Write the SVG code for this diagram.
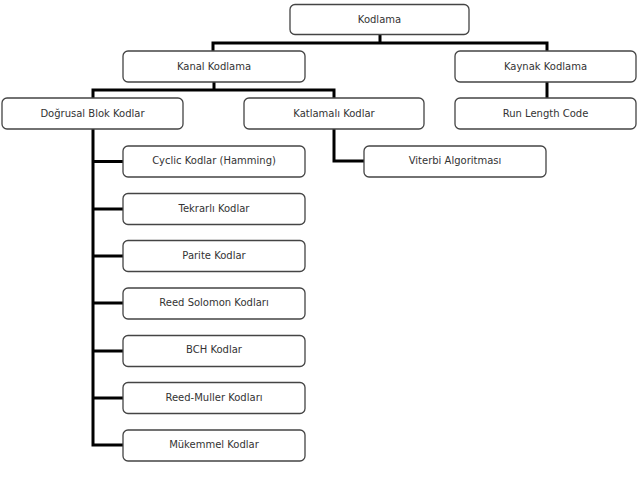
<svg xmlns="http://www.w3.org/2000/svg" width="641" height="495" viewBox="0 0 641 495">
<style>
.b{fill:#fff;stroke:#444;stroke-width:1.3}
.t{font-family:"DejaVu Sans",Verdana,sans-serif;font-size:10px;fill:#333;text-anchor:middle}
.c{fill:none;stroke:#000;stroke-width:3;stroke-linejoin:miter;stroke-linecap:square}
</style>
<rect width="641" height="495" fill="#fff"/>
<g id="connectors">
<path class="c" d="M380,34V43M213,51V43H547V51"/>
<path class="c" d="M214,82V90M93,97V90H334V97"/>
<path class="c" d="M547,82V98"/>
<path class="c" d="M334,129V161H364"/>
<path class="c" d="M93,129V445H123M93,161.5H123M93,209H123M93,256H123M93,303H123M93,351H123M93,398H123"/>
</g>
<g id="kodlama"><rect class="b" x="290" y="4.5" width="179" height="30" rx="5"/><text class="t" x="379.5" y="23">Kodlama</text></g>
<g id="kanal"><rect class="b" x="123" y="51" width="182" height="31" rx="5"/><text class="t" x="214" y="70">Kanal Kodlama</text></g>
<g id="kaynak"><rect class="b" x="455" y="51" width="181" height="31" rx="5"/><text class="t" x="545.5" y="70">Kaynak Kodlama</text></g>
<g id="dogrusal"><rect class="b" x="2" y="98" width="181" height="31" rx="5"/><text class="t" x="92.5" y="117">Doğrusal Blok Kodlar</text></g>
<g id="katlamali"><rect class="b" x="244" y="98" width="180" height="31" rx="5"/><text class="t" x="334" y="117">Katlamalı Kodlar</text></g>
<g id="runlength"><rect class="b" x="455" y="98" width="181" height="31" rx="5"/><text class="t" x="545.5" y="117">Run Length Code</text></g>
<g id="cyclic"><rect class="b" x="123" y="146" width="182" height="31" rx="5"/><text class="t" x="214" y="164">Cyclic Kodlar (Hamming)</text></g>
<g id="viterbi"><rect class="b" x="364" y="146" width="182" height="31" rx="5"/><text class="t" x="455" y="164">Viterbi Algoritması</text></g>
<g id="tekrarli"><rect class="b" x="123" y="193.5" width="182" height="31" rx="5"/><text class="t" x="214" y="211.5">Tekrarlı Kodlar</text></g>
<g id="parite"><rect class="b" x="123" y="240.5" width="182" height="31" rx="5"/><text class="t" x="214" y="258.5">Parite Kodlar</text></g>
<g id="reedsolomon"><rect class="b" x="123" y="288" width="182" height="31" rx="5"/><text class="t" x="214" y="306">Reed Solomon Kodları</text></g>
<g id="bch"><rect class="b" x="123" y="335.5" width="182" height="31" rx="5"/><text class="t" x="214" y="353">BCH Kodlar</text></g>
<g id="reedmuller"><rect class="b" x="123" y="382.5" width="182" height="31" rx="5"/><text class="t" x="214" y="400.5">Reed-Muller Kodları</text></g>
<g id="mukemmel"><rect class="b" x="123" y="430" width="182" height="31" rx="5"/><text class="t" x="214" y="448">Mükemmel Kodlar</text></g>
</svg>
